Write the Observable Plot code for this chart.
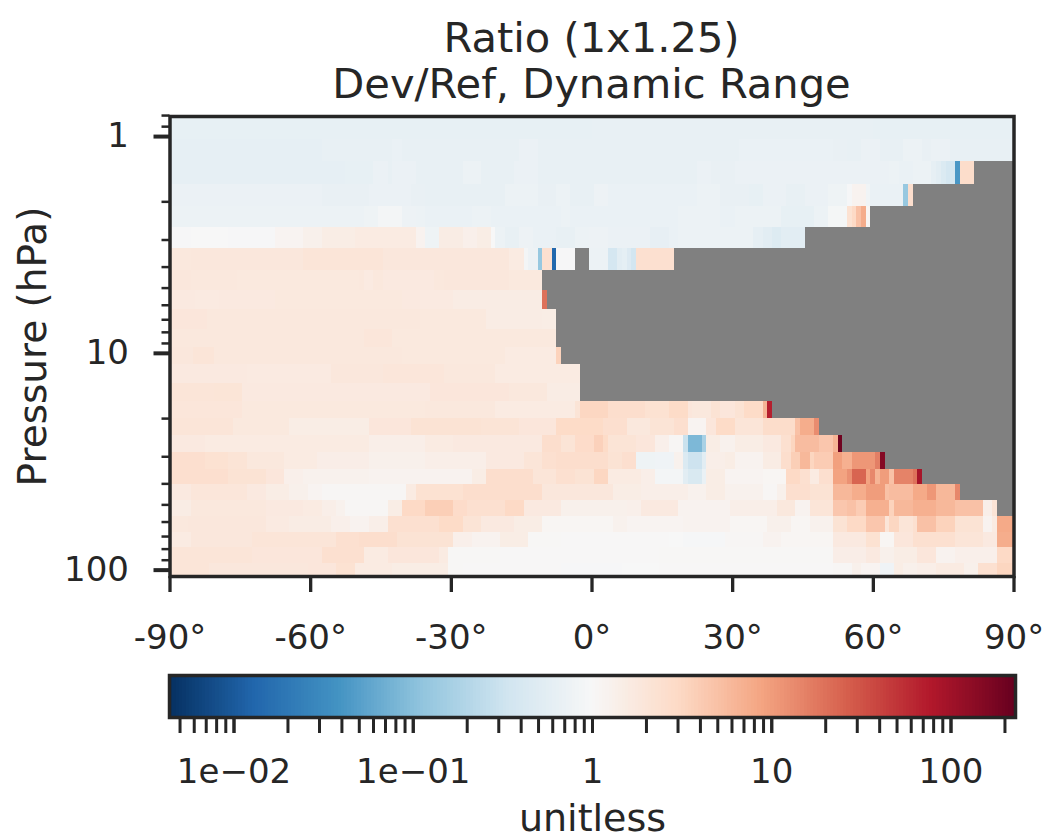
<!DOCTYPE html>
<html>
<head>
<meta charset="utf-8">
<script src="https://cdn.jsdelivr.net/npm/d3@7"></script>
<script src="https://cdn.jsdelivr.net/npm/@observablehq/plot@0.6"></script>
<style>
html,body{margin:0;padding:0;background:#fff;}
#title{height:106px;width:1183px;text-align:center;font:41.6px/46px "DejaVu Sans";color:#262626;box-sizing:border-box;padding-top:15px;}
svg{display:block;}
</style>
</head>
<body>
<div id="title">Ratio (1x1.25)<br>Dev/Ref, Dynamic Range</div>
<div id="main"></div>
<div id="bar"></div>
<script>
const pressureEdges = [0.808,1.03,1.305,1.67,2.11,2.64,3.30,4.13,5.11,6.25,7.73,9.37,11.3,13.8,16.7,20.0,24.0,28.7,34.2,40.4,47.9,56.8,67.3,79.0,93.6,107];
const latTicks = [-90,-60,-30,0,30,60,90];
const pressureTicks = [1,10,100];
const pressureMinor = [0.8,0.9,2,3,4,5,6,7,8,9,20,30,40,50,60,70,80,90];
const cbarMajor = [0.01,0.1,1,10,100];
const cbarMajorLabels = ["1e−02","1e−01","1","10","100"];
const cbarAll = [0.005,0.006,0.007,0.008,0.009,0.01,0.02,0.03,0.04,0.05,0.06,0.07,0.08,0.09,0.1,0.2,0.3,0.4,0.5,0.6,0.7,0.8,0.9,1,2,3,4,5,6,7,8,9,10,20,30,40,50,60,70,80,90,100,200];
const cmapColors = ["#053061","#2166ac","#4393c3","#92c5de","#d1e5f0","#f7f7f7","#fddbc7","#f4a582","#d6604d","#b2182b","#67001f"];
const colorLimit = 229;

// each row: [latitude where the run ends, ratio]; null is a missing run
const row00 = [[0,.64],[60,.65],[90,.64]];
const row01 = [[-57.5,.62],[-42.5,.65],[-40.5,.68],[-24.5,.65],[-15.5,.66],[-11.5,.71],[31.5,.65],[51.5,.69],[54.5,.67],[57.5,.66],[61.5,.70],[66.5,.66],[70.5,.72],[72.5,.67],[76.5,.71],[90,.65]];
const row02 = [[-52.5,.62],[-46.5,.64],[-43.5,.70],[-42.5,.66],[-37.5,.70],[-27.5,.66],[-23.5,.72],[-16.5,.66],[-11.5,.71],[22.5,.66],[25.5,.70],[30.5,.67],[63.5,.71],[65.5,.73],[68.5,.68],[72.5,.72],[73.5,.62],[74.5,.55],[75.5,.45],[77.5,.38],[78.5,.042],[81.5,2.7]];
const row03 = [[-57.5,.71],[-47.5,.67],[-38.5,.71],[-35.5,.67],[-18.5,.65],[-11.5,.72],[-7.5,.67],[-4.5,.72],[0.5,.66],[3.5,.76],[22.5,.68],[27.5,.72],[33.5,.67],[36.5,.64],[41.5,.71],[45.5,.66],[50.5,.71],[54.5,.78],[55.5,.95],[58.5,1.2],[59.5,.82],[66.5,.68],[67.5,.125],[68.5,2.6]];
const row04 = [[-48.5,.73],[-45.5,.78],[-40.5,.88],[-37.5,.76],[-35.5,.72],[-25.5,.68],[-21.5,.73],[-6.5,.69],[-4.5,.74],[18.5,.68],[27.5,.73],[30.5,.69],[40.5,.72],[47.5,.64],[50.5,.72],[54.5,.92],[55.5,2.3],[56.5,3],[57.5,5],[58.5,7.5],[59.5,1.1]];
const row05 = [[-85.5,.96],[-77.5,1.0],[-67.5,.97],[-61.5,1.15],[-57.5,1.3],[-50.5,1.5],[-37.5,1.6],[-35.5,1.2],[-32.5,.78],[-27.5,1.55],[-24.5,1.35],[-21.5,1.5],[-20.5,1.0],[-18.5,.72],[-15.5,.66],[-12.5,.75],[-7.5,.68],[-3.5,.66],[-0.5,.72],[3.5,.76],[12.5,.71],[16.5,.63],[18.5,.69],[34.5,.73],[36.5,.62],[38.5,.55],[40.5,.48],[45.5,.55]];
const row06 = [[-85.5,1.8],[-61.5,1.85],[-44.5,2.0],[-17.5,1.85],[-14.5,1.6],[-13.5,.9],[-11.5,.75],[-10.5,.125],[-8.5,2.4],[-7.5,.0135],[-3.5,.97],[-0.5,null],[3.5,.72],[5.5,.38],[6.5,.55],[7.5,.6],[8.5,.47],[9.5,.36],[17.5,2.4]];
const row07 = [[-85.5,1.85],[-75.5,1.8],[-49.5,1.75],[-48.5,1.8],[-46.5,1.65],[-44.5,1.8],[-33.5,1.7],[-31.5,1.8],[-17.5,1.85],[-10.5,1.75]];
const row08 = [[-84.5,1.7],[-79.5,1.65],[-67.5,1.7],[-40.5,1.75],[-36.5,1.7],[-29.5,1.65],[-10.5,1.55],[-9.5,20]];
const row09 = [[-82,1.9],[-36.5,1.8],[-22.5,1.75],[-10.5,1.55],[-7.5,1.5]];
const row10 = [[-48.5,1.8],[-42.5,1.95],[-7.5,1.75]];
const row11 = [[-85,1.85],[-80.5,2.0],[-40.5,1.8],[-18.5,1.75],[-7.5,1.6],[-6.5,3.5]];
const row12 = [[-73.5,1.7],[-55.5,1.65],[-44.5,1.85],[-31.5,1.95],[-20.5,1.8],[-2.5,1.6]];
const row13 = [[-80.5,2.0],[-74.5,2.05],[-34.5,1.7],[-17.5,1.9],[-9.5,1.8],[-2.5,1.55]];
const row14 = [[-74.5,1.95],[-35.5,1.75],[-20.5,1.8],[-3.5,1.6],[-2.5,2.1],[3.5,3.2],[11.5,2.6],[16.5,2.3],[20.5,2.9],[21.5,1.9],[25.5,1.8],[27.5,2.2],[30.5,1.9],[32.5,2.2],[36.5,2.9],[37.5,6.5],[38.5,70]];
const row15 = [[-76.5,2.0],[-64.5,1.75],[-47.5,1.5],[-38.5,1.9],[-23.5,2.2],[-15.5,2.1],[-7.5,1.9],[2.5,2.9],[7.5,2.5],[12.5,1.8],[17.5,2.1],[20.5,2.5],[24.5,1.15],[26.5,1.9],[30.5,2.9],[36.5,2.0],[43.5,2.7],[44.5,5],[47.5,7.5],[48.5,13]];
const row16 = [[-82.5,1.7],[-47.5,1.6],[-35.5,1.4],[-29.5,1.6],[-10.5,1.7],[-6.5,2.6],[-3.5,2.1],[0.5,2.8],[2.5,3.6],[3.5,2.9],[9.5,2.1],[13.5,1.9],[16.5,1.35],[19.5,1.08],[20.5,.3],[23.5,.085],[24.5,.17],[27.5,1.5],[30.5,1.25],[36.5,1.5],[40.5,1.7],[42.5,2.4],[43.5,3.3],[48.5,5.5],[51.5,4.5],[52.5,6.5],[53.5,200]];
const row17 = [[-82.5,2.5],[-77.5,2.3],[-73.5,2.1],[-65.5,1.8],[-58.5,1.6],[-47.5,1.45],[-35.5,1.3],[-22.5,1.4],[-14.5,1.7],[-10.5,2.0],[-7.5,2.4],[3.5,2.6],[6.5,2.2],[9.5,2.5],[13.5,.78],[17.5,.8],[19.5,1.25],[20.5,.45],[23.5,.32],[24.5,.55],[28.5,1.4],[30.5,1.5],[36.5,1.2],[40.5,1.55],[42.5,2.6],[44.5,3.8],[46.5,6],[47.5,3.3],[51.5,4],[53.5,9.5],[55.5,7],[60.5,11],[61.5,16],[62.5,150]];
const row18 = [[-77.5,2.5],[-69.5,2.2],[-65.5,1.9],[-61.5,1.35],[-47.5,1.25],[-25.5,1.2],[-22.5,1.5],[-12.5,2.6],[-7.5,2.0],[-3.5,2.4],[0.5,2.2],[3.5,3.2],[10.5,1.6],[13.5,1.4],[19.5,.9],[20.5,.55],[23.5,.42],[24.5,.68],[28.5,1.5],[36.5,1.15],[41.5,1.1],[44.5,3],[46.5,2.4],[48.5,1.6],[51.5,2.5],[54.5,9],[55.5,12],[58.5,24],[59.5,9],[60.5,14],[61.5,6.5],[63.5,10],[64.5,5],[68.5,15],[69.5,20],[70.5,90]];
const row19 = [[-85.5,1.7],[-73.5,1.95],[-69.5,1.7],[-64.5,1.5],[-60.5,1.3],[-57.5,1.15],[-39.5,1.08],[-37.5,1.6],[-27.5,2.3],[-10.5,2.6],[4.5,1.85],[10.5,1.5],[20.5,1.4],[24.5,1.25],[28.5,1.5],[36.5,1.25],[39.5,1.08],[41.5,1.3],[46.5,2.5],[51.5,2.2],[55.5,6],[58.5,7.5],[62.5,10],[63.5,5],[68.5,5.5],[71.5,8],[73.5,11],[77.5,6],[78.5,14]];
const row20 = [[-85.5,1.55],[-69.5,1.8],[-61.5,1.7],[-57.5,1.6],[-54.5,1.4],[-52.5,1.25],[-43.5,1.08],[-40.5,1.5],[-35.5,3],[-29.5,3.8],[-26.5,2.8],[-18.5,2.4],[-14.5,3],[-6.5,1.7],[7.5,1.3],[10.5,1.35],[18.5,1.7],[29.5,1.2],[39.5,1.4],[43.5,1.8],[46.5,1.2],[51.5,2],[54.5,4.5],[56.5,5],[58.5,4],[63.5,7],[64.5,3.5],[68.5,6],[73.5,7],[77.5,6],[83.5,5],[85.5,1.4],[86.5,2.1]];
const row21 = [[-86,1.8],[-69.5,1.85],[-64.5,1.65],[-55.5,1.55],[-51.5,1.35],[-47.5,1.2],[-43.5,1.4],[-32.5,2.4],[-27.5,2.9],[-23.5,2.1],[-16.5,1.7],[-10.5,1.5],[4.5,1.1],[7.5,1.25],[19.5,1.15],[29.5,1.2],[37.5,1.1],[42.5,1.3],[46.5,1.1],[51.5,1.25],[54.5,2.2],[58.5,3],[62.5,4.5],[63.5,2],[65.5,3.2],[68.5,2],[69.5,2.4],[73.5,5],[77.5,3.5],[83.5,2.2],[85.5,1.2],[86.5,1.6],[90,8]];
const row22 = [[-85.5,1.6],[-72.5,1.85],[-54.5,2.0],[-49.5,2.4],[-41.5,2.6],[-29.5,2.2],[-25.5,1.35],[-19.5,1.2],[-13.5,1.5],[-6.5,1.05],[16.5,1.03],[19.5,1.0],[28.5,.95],[36.5,1.08],[40.5,1.2],[51.5,1.1],[58.5,1.7],[61.5,2.3],[64.5,1.1],[68.5,1.9],[77.5,2.4],[83.5,2],[86.5,1.7],[90,7.5]];
const row23 = [[-72.5,2.0],[-57.5,1.9],[-48.5,2.4],[-43.5,1.6],[-32.5,1.9],[-30.5,1.6],[-19.5,1.05],[14.5,1.02],[51.5,1.05],[58.5,1.45],[61.5,1.7],[64.5,1.3],[69.5,1.5],[73.5,1.9],[77.5,1.2],[86.5,1.35],[90,3]];
const row24 = [[-81.5,2.0],[-60.5,1.85],[-54.5,1.9],[-50.5,2.3],[-42.5,1.6],[-30.5,1.5],[-27.5,1.05],[-6.5,1.03],[6.5,.96],[14.5,1.0],[51.5,1.03],[55.5,1.08],[57.5,1.3],[61.5,1.15],[64.5,.8],[66.5,1.5],[69.5,1.3],[73.5,1.4],[79.5,1.6],[82.5,1.3],[86.5,2.4],[90,3.3]];
const rows = [row00,row01,row02,row03,row04,row05,row06,row07,row08,row09,row10,row11,row12,row13,row14,row15,row16,row17,row18,row19,row20,row21,row22,row23,row24];

const cells = rows.flatMap((row,i)=>{
  let start = -90;
  return row.map(([end,value])=>{
    const c = {x1:start,x2:end,y1:pressureEdges[i],y2:pressureEdges[i+1],value};
    start = end;
    return c;
  }).filter(c=>c.value!==null);
});

const ink = "#262626";
const logL = Math.log10(colorLimit);
const colorOpts = {
  type:"log",
  domain:cmapColors.map((_,i)=>Math.pow(10,-logL+i*2*logL/10)),
  range:cmapColors,
  interpolate:"rgb",
  clamp:true
};
const font = {fontFamily:"DejaVu Sans",fontSize:"34px",color:ink,background:"transparent",overflow:"visible"};

const main = Plot.plot({
  width:1045,height:554,
  marginLeft:169.5,marginRight:31.5,marginTop:10,marginBottom:84,
  style:font,
  x:{domain:[-90,90]},
  y:{type:"log",domain:[107,0.808]},
  color:colorOpts,
  marks:[
    Plot.frame({fill:"#808080",stroke:null}),
    Plot.rect(cells,{x1:"x1",x2:"x2",y1:"y1",y2:"y2",fill:"value",shapeRendering:"crispEdges"}),
    Plot.axisX(latTicks,{tickSize:16,strokeWidth:3.3,stroke:ink,fill:ink,tickPadding:32,tickFormat:d=>`${d}°`,label:null,fontSize:34}),
    Plot.axisY(pressureTicks,{tickSize:16,strokeWidth:4,stroke:ink,fill:ink,tickPadding:25,tickFormat:d=>`${d}`,label:null,fontSize:34}),
    Plot.axisY(pressureMinor,{tickSize:8,strokeWidth:2.5,stroke:ink,tickFormat:()=>"",label:null}),
    Plot.frame({stroke:ink,strokeWidth:3.5,fill:"none"}),
    Plot.text(["Pressure (hPa)"],{frameAnchor:"left",textAnchor:"middle",rotate:-90,dx:-136.5,fontSize:39,fill:ink})
  ]
});
document.getElementById("main").append(main);

const steps = d3.range(256);
const edge = k=>Math.pow(10,-logL+k*2*logL/256);
const bar = Plot.plot({
  width:1045,height:178,
  marginLeft:169,marginRight:30,marginTop:15,marginBottom:121,
  style:font,
  x:{type:"log",domain:[1/colorLimit,colorLimit]},
  color:colorOpts,
  marks:[
    Plot.rect(steps,{x1:k=>edge(k),x2:k=>edge(k+1),fill:k=>edge(k+0.5),shapeRendering:"crispEdges"}),
    Plot.axisX(cbarAll,{tickSize:16,strokeWidth:3,stroke:ink,tickFormat:()=>"",label:null}),
    Plot.axisX(cbarMajor,{tickSize:16,strokeWidth:3,stroke:ink,fill:ink,tickPadding:25,tickFormat:(d,i)=>cbarMajorLabels[cbarMajor.indexOf(d)],label:null,fontSize:34}),
    Plot.frame({stroke:ink,strokeWidth:3.5,fill:"none"}),
    Plot.text(["unitless"],{frameAnchor:"bottom",dy:101,lineAnchor:"middle",fontSize:38,fill:ink})
  ]
});
document.getElementById("bar").append(bar);
</script>
</body>
</html>
